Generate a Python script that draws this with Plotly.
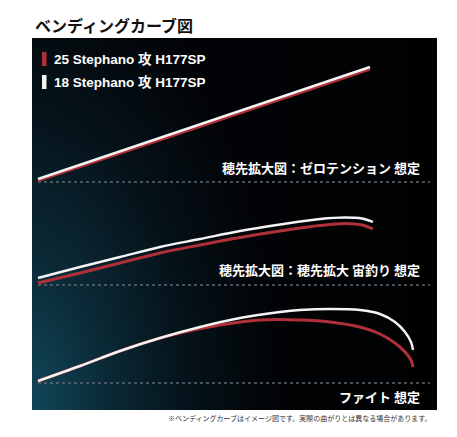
import base64
import plotly.graph_objects as go

# ---------------- data (horizontal distance from butt, deflection height above baseline) -------------
series_names = ["25 Stephano 攻 H177SP", "18 Stephano 攻 H177SP"]
panel_labels = ["穂先拡大図：ゼロテンション 想定", "穂先拡大図：穂先拡大 宙釣り 想定", "ファイト 想定"]

p1_x = [0, 166, 332]
p1_white = [3, 59, 115]
p1_red = [1.5, 57, 113]

p2_x = [0, 42, 82, 122, 162, 202, 242, 282, 307, 324, 335]
p2_white = [7, 18, 28, 38, 46, 54, 60.5, 66, 67.5, 66.5, 63]
p2_red = [2, 12, 22, 32, 40, 47.5, 54, 59.5, 61.5, 60, 56]

p3_white_x = [0, 42, 82, 122, 162, 202, 242, 262, 292, 322, 342, 357, 367, 373, 375]
p3_white = [2, 17, 32, 45, 56, 65, 71, 73, 74, 73, 69, 61, 51, 41, 33]
p3_red_x = [0, 42, 82, 112, 142, 182, 222, 262, 292, 322, 342, 357, 367, 373, 375]
p3_red = [2, 17, 32, 42, 50, 58, 63, 63, 61, 56, 49, 40, 31, 23, 16]

baseline_len = 392

RED = "#b0303a"
WHITE = "#f4f4f4"

# ---------------- figure ----------------
W, H = 457, 437
L, R, T, B = 32, 20, 38, 27
PW, PH = W - L - R, H - T - B

fig = go.Figure()

def add_pair(x_w, y_w, x_r, y_r, yaxis):
    fig.add_trace(go.Scatter(x=x_r, y=y_r, mode="lines", yaxis=yaxis, showlegend=False,
                             line=dict(color=RED, width=3, shape="spline"), hoverinfo="skip"))
    fig.add_trace(go.Scatter(x=x_w, y=y_w, mode="lines", yaxis=yaxis, showlegend=False,
                             line=dict(color=WHITE, width=2.4, shape="spline"), hoverinfo="skip"))

add_pair(p1_x, p1_white, p1_x, p1_red, "y3")
add_pair(p2_x, p2_white, p2_x, p2_red, "y2")
add_pair(p3_white_x, p3_white, p3_red_x, p3_red, "y")

# baselines (dotted)
for yr in ["y", "y2", "y3"]:
    fig.add_shape(type="line", xref="x", yref=yr, x0=0, x1=baseline_len, y0=0, y1=0,
                  line=dict(color="#5c6a74", width=1.3, dash="dot"), layer="below")

# background gradient image
svg = f'''<svg xmlns="http://www.w3.org/2000/svg" width="{PW}" height="{PH}" viewBox="0 0 {PW} {PH}">
<defs>
<radialGradient id="g" gradientUnits="userSpaceOnUse" cx="0" cy="{PH}" r="330"
 gradientTransform="translate(0,{PH}) scale(0.75,1.35) translate(0,-{PH})">
<stop offset="0" stop-color="#11475a"/>
<stop offset="0.3" stop-color="#0b2d3a"/>
<stop offset="0.65" stop-color="#06141c"/>
<stop offset="1" stop-color="#020407"/>
</radialGradient>
<linearGradient id="h" x1="0" y1="0" x2="1" y2="0">
<stop offset="0" stop-color="#000" stop-opacity="0"/>
<stop offset="0.6" stop-color="#000" stop-opacity="0.2"/>
<stop offset="1" stop-color="#000" stop-opacity="0.8"/>
</linearGradient>
</defs>
<rect width="{PW}" height="{PH}" fill="#020407"/>
<rect width="{PW}" height="{PH}" fill="url(#g)"/>
<rect width="{PW}" height="{PH}" fill="url(#h)"/>
</svg>'''
src = "data:image/svg+xml;base64," + base64.b64encode(svg.encode()).decode()
fig.add_layout_image(source=src, xref="paper", yref="paper", x=0, y=1, sizex=1, sizey=1,
                     xanchor="left", yanchor="top", sizing="stretch", layer="below")

def px_x(px):
    return (px - L) / PW

def px_y(py):
    return (H - B - py) / PH

JP = "Noto Sans CJK JP"

# title
fig.add_annotation(text="ベンディングカーブ図", xref="paper", yref="paper", x=px_x(33), y=px_y(25),
                   xanchor="left", yanchor="middle", showarrow=False,
                   font=dict(family=JP, size=16, color="#111111", weight="bold"))

# legend
for i, (name, col) in enumerate(zip(series_names, [RED, WHITE])):
    cy = [59, 82][i]
    fig.add_shape(type="rect", xref="paper", yref="paper", x0=px_x(42), x1=px_x(46.5),
                  y0=px_y(cy + 7), y1=px_y(cy - 7), fillcolor=col, line=dict(width=0))
    fig.add_annotation(text=name, xref="paper", yref="paper", x=px_x(52), y=px_y(cy),
                       xanchor="left", yanchor="middle", showarrow=False,
                       font=dict(family="Liberation Sans, " + JP, size=13.5, color="#ffffff", weight="bold"))

# panel labels
for lab, cy in zip(panel_labels, [167, 269, 396]):
    fig.add_annotation(text=lab, xref="paper", yref="paper", x=px_x(422), y=px_y(cy),
                       xanchor="right", yanchor="middle", showarrow=False,
                       font=dict(family=JP, size=13, color="#ffffff", weight="bold"))

# footnote
fig.add_annotation(text="※ベンディングカーブはイメージ図です。実際の曲がりとは異なる場合があります。",
                   xref="paper", yref="paper", x=px_x(434), y=px_y(418),
                   xanchor="right", yanchor="middle", showarrow=False,
                   font=dict(family=JP, size=7, color="#333333"))

def yax(base_px):
    return dict(range=[base_px - (H - B), base_px - T], visible=False, fixedrange=True,
                domain=[0, 1])

fig.update_layout(
    width=W, height=H, autosize=False,
    margin=dict(l=L, r=R, t=T, b=B, pad=0),
    paper_bgcolor="#ffffff", plot_bgcolor="#020407",
    xaxis=dict(range=[-6, PW - 6], visible=False, fixedrange=True),
    yaxis=dict(yax(383)),
    yaxis2=dict(yax(285), overlaying="y"),
    yaxis3=dict(yax(182), overlaying="y"),
    showlegend=False,
)

fig.write_html("out.html", config={"displayModeBar": False},
               post_script="document.body.style.margin='0';")
